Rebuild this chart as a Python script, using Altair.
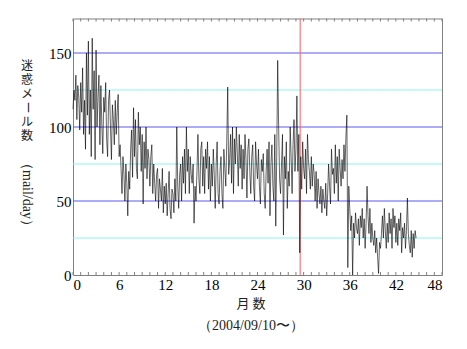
import altair as alt
import pandas as pd

STEP = 0.125  # months between samples
spam = [
    112, 125, 118, 135, 105, 128, 120, 98,
    130, 110, 140, 95, 118, 85, 150, 108,
    158, 95, 125, 80, 160, 112, 138, 78,
    152, 100, 120, 135, 88, 128, 102, 82,
    120, 110, 130, 92, 80, 118, 125, 100,
    78, 115, 105, 88, 118, 95, 110, 122,
    80, 88, 72, 55, 80, 68, 50, 75,
    62, 40, 70, 58, 85, 98, 66, 113,
    80, 105, 72, 65, 110, 88, 100, 70,
    95, 48, 90, 72, 100, 65, 85, 78,
    60, 80, 88, 55, 75, 62, 50, 68,
    72, 45, 65, 58, 50, 72, 42, 60,
    48, 62, 40, 55, 70, 45, 38, 58,
    55, 42, 65, 50, 100, 60, 45, 68,
    75, 50, 80, 62, 85, 55, 100, 70,
    85, 55, 80, 68, 62, 75, 35, 60,
    50, 70, 95, 65, 55, 85, 90, 60,
    80, 55, 85, 72, 90, 58, 80, 50,
    75, 60, 85, 68, 45, 75, 90, 55,
    48, 70, 80, 55, 45, 85, 72, 60,
    90, 127, 68, 78, 95, 62, 100, 55,
    92, 75, 100, 82, 60, 95, 72, 88,
    58, 85, 65, 95, 78, 52, 85, 92,
    70, 55, 80, 88, 60, 50, 90, 75,
    65, 85, 60, 48, 78, 70, 82, 55,
    45, 70, 85, 62, 90, 40, 75, 88,
    60, 50, 95, 33, 80, 145, 100, 65,
    55, 75, 95, 27, 80, 65, 90, 45,
    70, 60, 100, 80, 55, 88, 105, 70,
    85, 121, 70, 95, 15, 80, 58, 90,
    72, 65, 85, 55, 95, 78, 70, 58,
    80, 60, 75, 68, 50, 70, 45, 65,
    55, 48, 60, 42, 58, 50, 45, 62,
    40, 55, 75, 60, 48, 85, 68, 72,
    55, 88, 62, 80, 50, 85, 72, 60,
    78, 65, 88, 70, 93, 108, 5, 60,
    45, 30, 40, 0, 35, 25, 42, 32,
    28, 38, 20, 40, 32, 45, 25, 38,
    18, 35, 60, 40, 28, 45, 22, 35,
    25, 20, 30, 15, 25, 12, 1, 22,
    18, 28, 40, 25, 45, 30, 18, 35,
    22, 42, 28, 38, 18, 45, 32, 40,
    22, 35, 20, 38, 30, 42, 15, 32,
    25, 35, 18, 30, 52, 28, 20, 15,
    30, 12, 28, 18, 30, 25,
]
months = [i * STEP for i in range(len(spam))]

x_ticks = [0, 6, 12, 18, 24, 30, 36, 42, 48]
minor_x = list(range(0, 49))
y_ticks = [0, 50, 100, 150]
major_grid = [50, 100, 150]
minor_grid = [25, 75, 125]
marker_month = [29.55]
y_title_chars = ["迷", "惑", "メ", "ー", "ル", "数"]
y_title_unit = "（mail/day）"
x_title_lines = ["月 数", "（2004/09/10〜）"]

W, H = 369, 256.5
YMAX = 25 * H / 37  # 25 units per 37 px
SERIF = "Liberation Serif"
CJK = "Noto Sans CJK JP"
xs = alt.Scale(domain=[0, 48], nice=False, zero=False)
ys = alt.Scale(domain=[0, YMAX], nice=False)
x_axis = alt.Axis(values=x_ticks, ticks=False, domain=False, grid=False, title=None,
                  labelPadding=2, labelFontSize=15, labelFont=SERIF, labelColor="black")
y_axis = alt.Axis(values=y_ticks, ticks=False, domain=False, grid=False, title=None,
                  labelPadding=2, labelFontSize=15, labelFont=SERIF, labelColor="black")

df = pd.DataFrame({"m": months, "v": spam})
tick_df = pd.DataFrame({"m": minor_x})

grid_major = alt.Chart(pd.DataFrame({"v": major_grid})).mark_rule(
    color="#5a5aee", strokeWidth=1).encode(y=alt.Y("v:Q", scale=ys, axis=y_axis))
grid_minor = alt.Chart(pd.DataFrame({"v": minor_grid})).mark_rule(
    color="#90f2f2", strokeWidth=1).encode(y=alt.Y("v:Q", scale=ys, axis=y_axis))
red = alt.Chart(pd.DataFrame({"m": marker_month})).mark_rule(color="#ff5a5a", strokeWidth=1).encode(
    x=alt.X("m:Q", scale=xs, axis=x_axis)
)
line = alt.Chart(df).mark_line(color="#000000", strokeWidth=0.6).encode(
    x=alt.X("m:Q", scale=xs, axis=x_axis),
    y=alt.Y("v:Q", scale=ys, axis=y_axis),
)
bottom_ticks = alt.Chart(tick_df).mark_rule(color="#808080", strokeWidth=1).encode(
    x=alt.X("m:Q", scale=xs, axis=x_axis),
    y=alt.value(H),
    y2=alt.value(H - 3),
)
top_ticks = alt.Chart(tick_df).mark_rule(color="#808080", strokeWidth=1).encode(
    x=alt.X("m:Q", scale=xs, axis=x_axis),
    y=alt.value(0),
    y2=alt.value(3),
)

texts = []
for i, ch in enumerate(y_title_chars):
    texts.append(alt.Chart(pd.DataFrame({"t": [ch]})).mark_text(
        text=ch, font=CJK, fontSize=12, color="#222", angle=90 if ch == "ー" else 0,
        align="center", baseline="middle").encode(x=alt.value(-46), y=alt.value(47 + i * 14)))
texts.append(alt.Chart(pd.DataFrame({"t": [y_title_unit]})).mark_text(
    text=y_title_unit, font=SERIF, fontSize=14, color="#222", angle=90,
    align="center", baseline="middle").encode(x=alt.value(-46), y=alt.value(176)))
for j, t in enumerate(x_title_lines):
    texts.append(alt.Chart(pd.DataFrame({"t": [t]})).mark_text(
        text=t, font=SERIF if j else CJK, fontSize=14 if j else 13, color="#222",
        align="center", baseline="middle").encode(x=alt.value(178), y=alt.value(285 + j * 22)))

chart = alt.layer(grid_minor, grid_major, red, line, bottom_ticks, top_ticks, *texts).properties(
    width=W, height=H,
    padding={"left": 65, "top": 10.5, "right": 10, "bottom": 60},
    autosize=alt.AutoSizeParams(type="none"),
).configure(
    background="white",
    view=alt.ViewConfig(stroke="#808080", strokeWidth=1),
    axis=alt.AxisConfig(labelFont=SERIF, labelFontSize=15, labelColor="black"),
)

chart.save("out.html", embed_options={"renderer": "svg", "actions": False})
